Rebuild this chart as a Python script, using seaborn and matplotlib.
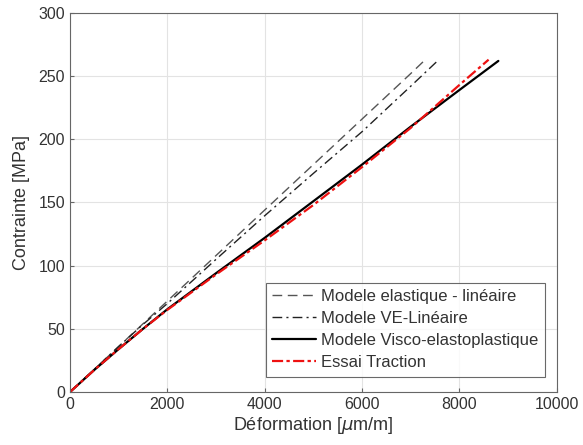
import numpy as np
import pandas as pd
import matplotlib
matplotlib.use("Agg")
import matplotlib.pyplot as plt
import seaborn as sns

# données (déformation en µm/m, contrainte en MPa)
x_elast = [0, 500, 1000, 1500, 2000, 3000, 4000, 5000, 6000, 7000, 7300]
y_elast = [0, 18, 36, 54, 72, 108, 144, 180, 216, 252, 263]

x_ve = [0, 500, 1000, 1500, 2000, 3000, 4000, 5000, 6000, 7000, 7550]
y_ve = [0, 18, 36, 53.5, 70, 105, 139.5, 173, 206, 242, 262]

x_visco = [0, 500, 1000, 1500, 2000, 3000, 4000, 5000, 6000, 7000, 8000, 8800]
y_visco = [0, 17.5, 34, 50, 65.5, 94, 122, 151, 180, 210, 239, 262]

x_essai = [0, 500, 1000, 1500, 2000, 3000, 4000, 5000, 6000, 7000, 8000, 8600]
y_essai = [0, 17.5, 34, 50, 65, 93, 120, 148, 178, 209, 243, 263]

labels = ["Modele elastique - linéaire", "Modele VE-Linéaire",
          "Modele Visco-elastoplastique", "Essai Traction"]

sns.set_style("ticks")
plt.rcParams['font.family'] = ['Liberation Sans', 'DejaVu Sans']
txt = "#333333"

fig = plt.figure(figsize=(5.83, 4.45), dpi=100)
ax = fig.add_axes([0.12, 0.119, 0.835, 0.852])

sns.lineplot(x=x_elast, y=y_elast, ax=ax, color="#555555", lw=1.0,
             linestyle=(0, (7, 4)), label=labels[0])
sns.lineplot(x=x_ve, y=y_ve, ax=ax, color="#222222", lw=1.0,
             linestyle=(0, (7, 3, 1.5, 3)), label=labels[1])
sns.lineplot(x=x_visco, y=y_visco, ax=ax, color="black", lw=1.6,
             linestyle="-", label=labels[2])
sns.lineplot(x=x_essai, y=y_essai, ax=ax, color="#ee1111", lw=1.6,
             linestyle=(0, (5, 1.5, 1.5, 1.5)), label=labels[3])

ax.set_xlim(0, 10000)
ax.set_ylim(0, 300)
ax.set_xticks([0, 2000, 4000, 6000, 8000, 10000])
ax.set_yticks([0, 50, 100, 150, 200, 250, 300])
ax.grid(True, color="#e3e3e3", lw=0.8)
for s in ax.spines.values():
    s.set_color("#666666")
    s.set_linewidth(0.8)
ax.tick_params(direction="in", length=3, colors="#666666", labelcolor=txt,
               labelsize=11.5, top=False, right=False)
ax.set_xlabel("Déformation [$\\mu$m/m]", fontsize=13, color=txt, labelpad=2)
ax.set_ylabel("Contrainte [MPa]", fontsize=13, color=txt, labelpad=6)

leg = ax.legend(loc="lower right", bbox_to_anchor=(0.975, 0.04),
                borderaxespad=0, fontsize=12, frameon=True, fancybox=False,
                handlelength=2.6, handletextpad=0.3, borderpad=0.4,
                labelspacing=0.42)
leg.get_frame().set_edgecolor("#444444")
leg.get_frame().set_linewidth(0.8)
for t in leg.get_texts():
    t.set_color(txt)

fig.savefig("out.png", dpi=100)
